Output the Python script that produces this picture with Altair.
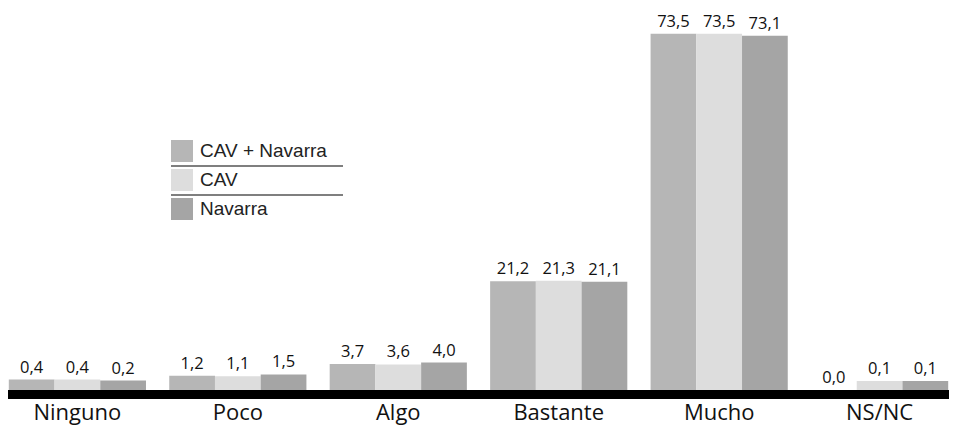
import altair as alt
import pandas as pd

categories = ["Ninguno", "Poco", "Algo", "Bastante", "Mucho", "NS/NC"]
series = ["CAV + Navarra", "CAV", "Navarra"]
cav_navarra = [0.4, 1.2, 3.7, 21.2, 73.5, 0.0]
cav = [0.4, 1.1, 3.6, 21.3, 73.5, 0.1]
navarra = [0.2, 1.5, 4.0, 21.1, 73.1, 0.1]
colors = ["#b6b6b6", "#dddddd", "#a5a5a5"]

rows = []
for s, vals in zip(series, [cav_navarra, cav, navarra]):
    for c, v in zip(categories, vals):
        rows.append({"cat": c, "serie": s, "valor": v,
                     "label": f"{v:.1f}".replace(".", ",")})
df = pd.DataFrame(rows)

W, H = 941, 382
YMIN, YMAX = -1.8, 78.96

x = alt.X("cat:N", sort=categories,
          scale=alt.Scale(paddingInner=0.145, paddingOuter=0.005),
          axis=alt.Axis(title=None, domain=False, ticks=False, labelAngle=0,
                        labelPadding=12, labelFontSize=22, labelFont="Open Sans",
                        labelColor="#111111"))
xo = alt.XOffset("serie:N", sort=series, scale=alt.Scale(paddingInner=0, paddingOuter=0))
yscale = alt.Scale(domain=[YMIN, YMAX], nice=False, zero=False)

base = alt.Chart(df)

bars = base.transform_filter("datum.valor > 0").mark_bar().encode(
    x=x, xOffset=xo,
    y=alt.Y("valor:Q", scale=yscale, axis=None, stack=None),
    y2=alt.value(H),
    color=alt.Color("serie:N", sort=series,
                    scale=alt.Scale(domain=series, range=colors),
                    legend=alt.Legend(title=None, orient="none", legendX=163, legendY=132,
                                      symbolType="square", symbolSize=484,
                                      symbolStrokeWidth=0, symbolOpacity=1,
                                      labelFont="Liberation Sans", labelFontSize=19,
                                      labelColor="#222222", rowPadding=7, labelOffset=7)),
)

text = base.transform_calculate(
    ytop=f"datum.valor > 0 ? datum.valor : {YMIN}"
).mark_text(baseline="bottom", dy=-4, fontSize=16.5, font="Open Sans",
            color="#111111").encode(
    x=x, xOffset=xo, y=alt.Y("ytop:Q", scale=yscale, axis=None, stack=None),
    text="label:N")

marker = pd.DataFrame({"k": [0]})
axis_bar = alt.Chart(marker).mark_rule(color="black", strokeWidth=9).encode(
    x=alt.value(0), x2=alt.value(W), y=alt.value(H + 4.5))

sep1 = alt.Chart(marker).mark_rule(color="#555555", strokeWidth=1.5).encode(
    x=alt.value(163), x2=alt.value(335), y=alt.value(158))
sep2 = alt.Chart(marker).mark_rule(color="#555555", strokeWidth=1.5).encode(
    x=alt.value(163), x2=alt.value(335), y=alt.value(187))

chart = alt.layer(bars, text, axis_bar, sep1, sep2).properties(
    width=W, height=H,
    autosize=alt.AutoSizeParams(type="none"),
    padding={"left": 0, "top": 0, "right": 0, "bottom": 37},
).configure(background="white").configure_view(stroke=None)

chart.save("out.html", embed_options={"renderer": "svg", "actions": False})
